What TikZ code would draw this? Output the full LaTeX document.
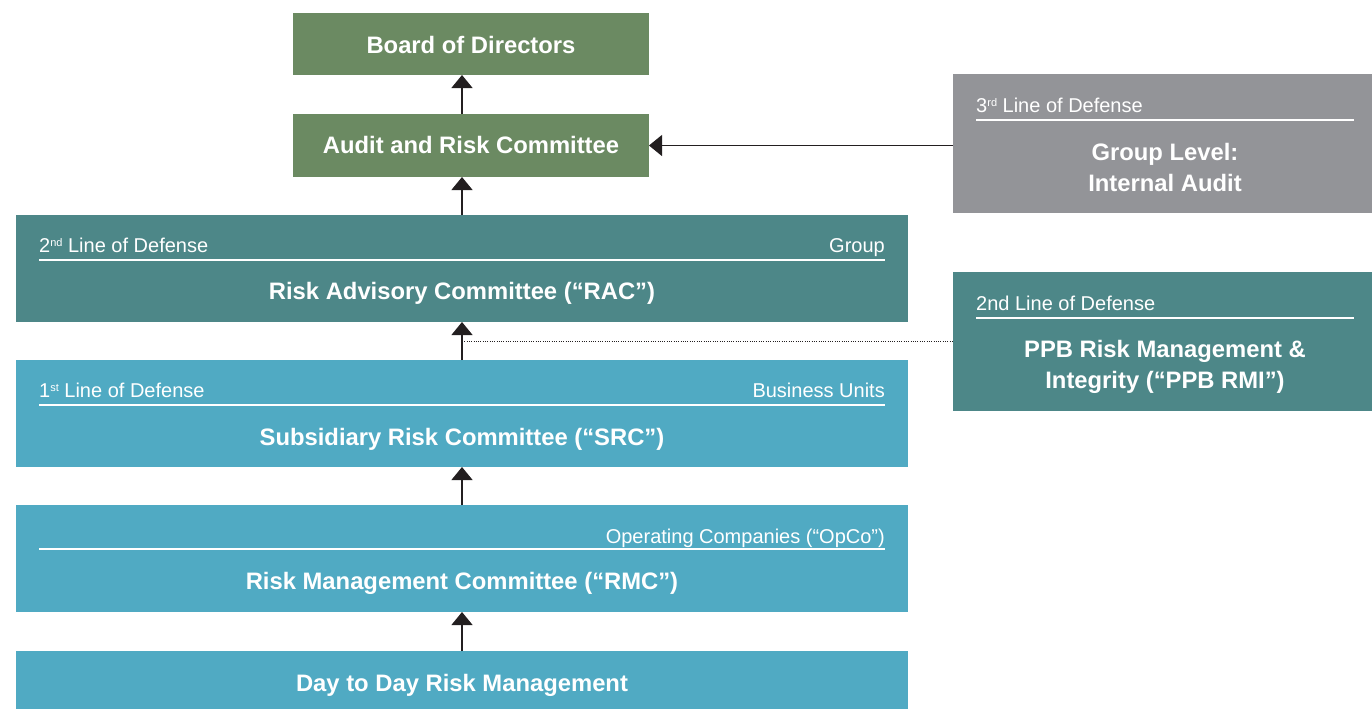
\documentclass[tikz,border=0pt]{standalone}
\usepackage{fontspec}
\setmainfont{Liberation Sans}
\usetikzlibrary{arrows.meta}
\definecolor{cgreen}{HTML}{6B8A62}
\definecolor{cteal}{HTML}{4D8788}
\definecolor{cblue}{HTML}{50AAC3}
\definecolor{cgray}{HTML}{939498}
\definecolor{cline}{HTML}{231F20}
\newcommand{\supx}[1]{\raisebox{6pt}{\fontsize{11}{12}\selectfont #1}}
\tikzset{
  box/.style={draw=none, inner sep=0pt, outer sep=0pt, rectangle},
  main/.style={text=white, font=\fontsize{23.8}{28}\selectfont\bfseries, inner sep=0pt, anchor=base, align=center},
  head/.style={text=white, font=\fontsize{20}{24}\selectfont, inner sep=0pt},
  rule/.style={draw=white, line width=1.2pt},
  arr/.style={draw=cline, line width=1.1pt, -{Triangle[width=21pt,length=13pt]}},
  dots/.style={draw=cline, line width=0.8pt, dash pattern=on 0.8pt off 1.5pt}
}
\begin{document}
\begin{tikzpicture}[x=1pt,y=-1pt]
\useasboundingbox (0,0) rectangle (1372,709);
% boxes
\node[box, fill=cgreen, minimum width=356pt, minimum height=62pt] (board) at (471,44) {};
\node[box, fill=cgreen, minimum width=356pt, minimum height=63pt] (audit) at (471,145.5) {};
\node[box, fill=cteal, minimum width=892pt, minimum height=107pt] (rac) at (462,268.5) {};
\node[box, fill=cblue, minimum width=892pt, minimum height=107pt] (src) at (462,413.5) {};
\node[box, fill=cblue, minimum width=892pt, minimum height=107pt] (rmc) at (462,558.5) {};
\node[box, fill=cblue, minimum width=892pt, minimum height=58pt] (day) at (462,680) {};
\node[box, fill=cgray, minimum width=419pt, minimum height=139pt] (ia) at (1162.5,143.5) {};
\node[box, fill=cteal, minimum width=419pt, minimum height=139pt] (ppb) at (1162.5,341.5) {};
\coordinate (ax) at (462,0);
% texts
\node[main] (tboard) at (471,53.5) {Board of Directors};
\node[main] (taudit) at (471,153.5) {Audit and Risk Committee};
\node[head, anchor=base west] (hrac) at (39,252) {2\supx{nd} Line of Defense};
\node[head, anchor=base east] (hrac2) at (885,252) {Group};
\draw[rule] (39,260) -- (885,260);
\node[main] (trac) at (462,299.5) {Risk Advisory Committee (“RAC”)};
\node[head, anchor=base west] (hsrc) at (39,397) {1\supx{st} Line of Defense};
\node[head, anchor=base east] (hsrc2) at (885,397) {Business Units};
\draw[rule] (39,405) -- (885,405);
\node[main] (tsrc) at (462,445.5) {Subsidiary Risk Committee (“SRC”)};
\node[head, anchor=base east] (hrmc) at (885,543) {Operating Companies (“OpCo”)};
\draw[rule] (39,549) -- (885,549);
\node[main] (trmc) at (462,589.5) {Risk Management Committee (“RMC”)};
\node[main] (tday) at (462,691.5) {Day to Day Risk Management};
\node[head, anchor=base west] (hia) at (976,112) {3\supx{rd} Line of Defense};
\draw[rule] (976,120) -- (1354,120);
\node[main] (tia1) at (1165,160.5) {Group Level:};
\node[main] (tia2) at (1165,191.5) {Internal Audit};
\node[head, anchor=base west] (hppb) at (976,310) {2nd Line of Defense};
\draw[rule] (976,318) -- (1354,318);
\node[main] (tppb1) at (1165,357.5) {PPB Risk Management \&};
\node[main] (tppb2) at (1165,388.5) {Integrity (“PPB RMI”)};
% connectors
\draw[arr] (audit.north -| ax) -- (board.south -| ax);
\draw[arr] (rac.north -| ax) -- (audit.south -| ax);
\draw[arr] (src.north -| ax) -- (rac.south -| ax);
\draw[arr] (rmc.north -| ax) -- (src.south -| ax);
\draw[arr] (day.north -| ax) -- (rmc.south -| ax);
\draw[arr] (audit.east -| ia.west) -- (audit.east);
\draw[dots] (ax |- ppb.west) -- (ppb.west);
\end{tikzpicture}
\end{document}
